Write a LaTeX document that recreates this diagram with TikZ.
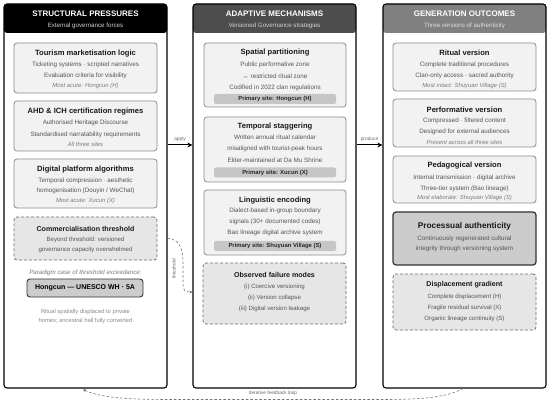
\documentclass[tikz,border=0pt]{standalone}
\usepackage{fontspec}
\setmainfont{Liberation Sans}
\usetikzlibrary{arrows.meta}
\definecolor{boxfill}{HTML}{F2F2F2}
\definecolor{boxdraw}{HTML}{8C8C8C}
\definecolor{dashfill}{HTML}{E6E6E6}
\definecolor{dashdraw}{HTML}{6E6E6E}
\definecolor{bodytxt}{HTML}{555555}
\definecolor{ittxt}{HTML}{7A7A7A}
\definecolor{lighttxt}{HTML}{8A8A8A}
\definecolor{barfill}{HTML}{C6C6C6}
\definecolor{hdrone}{HTML}{000000}
\definecolor{hdrtwo}{HTML}{4D4D4D}
\definecolor{hdrthree}{HTML}{808080}
\definecolor{subtxt}{HTML}{D2D2D2}
\definecolor{procfill}{HTML}{CCCCCC}
\newcommand\hdrfont{\fontsize{8}{9.6}\selectfont\bfseries}
\newcommand\subfont{\fontsize{6.2}{7.4}\selectfont}
\newcommand\ttlfont{\fontsize{7.6}{9}\selectfont\bfseries}
\newcommand\bodyfont{\fontsize{6.3}{7.5}\selectfont}
\newcommand\itfont{\fontsize{5.9}{7}\selectfont\itshape}
\newcommand\dttlfont{\fontsize{7.1}{8.5}\selectfont\bfseries}
\newcommand\dbodyfont{\fontsize{6.1}{7.3}\selectfont}
\newcommand\barfont{\fontsize{5.9}{7}\selectfont\bfseries}
\newcommand\tinyfont{\fontsize{4.8}{5.8}\selectfont}
\tikzset{
  colbox/.style={draw=black, line width=1.1pt, rounded corners=3pt, fill=white, inner sep=0pt, minimum width=163pt, minimum height=384pt},
  hdrfill/.style={path picture={\fill[#1] (path picture bounding box.north west) rectangle ([yshift=-29pt]path picture bounding box.north east);}},
  ibox/.style={draw=boxdraw, line width=0.8pt, rounded corners=3pt, fill=boxfill, inner sep=0pt, minimum width=143pt},
  dbox/.style={draw=dashdraw, line width=0.8pt, dash pattern=on 3pt off 2pt, rounded corners=3pt, fill=dashfill, inner sep=0pt, minimum width=143pt},
  pbar/.style={fill=barfill, rounded corners=2pt, inner sep=0pt, minimum width=122pt, minimum height=10pt, font=\barfont, text=black!85},
  hdr/.style={inner sep=0pt, font=\hdrfont, text=white},
  sub/.style={inner sep=0pt, font=\subfont, text=subtxt},
  ttl/.style={inner sep=0pt, font=\ttlfont, text=black!90},
  body/.style={inner sep=0pt, font=\bodyfont, text=bodytxt},
  itl/.style={inner sep=0pt, font=\itfont, text=ittxt},
  dttl/.style={inner sep=0pt, font=\dttlfont, text=black!90},
  dbody/.style={inner sep=0pt, font=\dbodyfont, text=bodytxt},
  lab/.style={inner sep=0pt, font=\tinyfont, text=black!60},
  mainarr/.style={line width=1pt, -{Stealth[length=5pt,width=5pt]}},
  thinarr/.style={draw=black!55, line width=0.6pt, dash pattern=on 2.5pt off 2pt, -{Stealth[length=3pt,width=3pt]}},
}
\begin{document}
\begin{tikzpicture}[x=1pt,y=-1pt]
\useasboundingbox (0,0) rectangle (550,404);
% columns
\node[colbox, hdrfill=hdrone] (c1) at (85.5,196) {};
\node[colbox, hdrfill=hdrtwo] (c2) at (274.5,196) {};
\node[colbox, hdrfill=hdrthree] (c3) at (464.5,196) {};
% headers
\node[hdr] (h1) at (85.5,14) {STRUCTURAL PRESSURES};
\node[sub] (s1) at (85.5,26) {External governance forces};
\node[hdr] (h2) at (274.5,14) {ADAPTIVE MECHANISMS};
\node[sub] (s2) at (274.5,26) {Versioned Governance strategies};
\node[hdr] (h3) at (464.5,14) {GENERATION OUTCOMES};
\node[sub, text=white!88!black] (s3) at (464.5,26) {Three versions of authenticity};

% ---------- column 1
\node[ibox, minimum height=50pt] (a1) at (85.5,68) {};
\node[ttl] (a1t) at (85.5,53.5) {Tourism marketisation logic};
\node[body] (a1a) at (85.5,64.5) {Ticketing systems · scripted narratives};
\node[body] (a1b) at (85.5,76) {Evaluation criteria for visibility};
\node[itl] (a1c) at (85.5,86) {Most acute: Hongcun (H)};

\node[ibox, minimum height=50pt] (a2) at (85.5,126) {};
\node[ttl] (a2t) at (85.5,112) {AHD \& ICH certification regimes};
\node[body] (a2a) at (85.5,123) {Authorised Heritage Discourse};
\node[body] (a2b) at (85.5,134.5) {Standardised narratability requirements};
\node[itl] (a2c) at (85.5,144) {All three sites};

\node[ibox, minimum height=49pt] (a3) at (85.5,183.5) {};
\node[ttl] (a3t) at (85.5,169.5) {Digital platform algorithms};
\node[body] (a3a) at (85.5,181) {Temporal compression · aesthetic};
\node[body] (a3b) at (85.5,191) {homogenisation (Douyin / WeChat)};
\node[itl] (a3c) at (85.5,201) {Most acute: Xucun (X)};

\node[dbox, minimum height=43pt] (a4) at (85.5,238.5) {};
\node[dttl] (a4t) at (85.5,229) {Commercialisation threshold};
\node[dbody] (a4a) at (85.5,239.5) {Beyond threshold: versioned};
\node[dbody] (a4b) at (85.5,250) {governance capacity overwhelmed};

\node[inner sep=0pt, font=\fontsize{6.2}{7.4}\selectfont\itshape, text=ittxt] (pc) at (85.5,273) {Paradigm case of threshold exceedance:};
\node[draw=black!80, line width=0.9pt, rounded corners=3pt, fill=procfill, inner sep=0pt, minimum width=116pt, minimum height=18pt, font=\fontsize{7}{8.4}\selectfont\bfseries] (hb) at (85,288) {Hongcun — UNESCO WH · 5A};
\node[inner sep=0pt, font=\fontsize{5.8}{7}\selectfont, text=lighttxt] (r1) at (85.5,312) {Ritual spatially displaced to private};
\node[inner sep=0pt, font=\fontsize{5.8}{7}\selectfont, text=lighttxt] (r2) at (85.5,321.5) {homes; ancestral hall fully converted};

% ---------- column 2
\node[ibox, minimum width=142pt, minimum height=64pt] (b1) at (275,75) {};
\node[ttl] (b1t) at (275,53) {Spatial partitioning};
\node[body] (b1a) at (275,65) {Public performative zone};
\node[body] (b1b) at (275,76) {↔ restricted ritual zone};
\node[body] (b1c) at (275,87.5) {Codified in 2022 clan regulations};
\node[pbar] (b1p) at (275,99) {Primary site: Hongcun (H)};

\node[ibox, minimum width=142pt, minimum height=65pt] (b2) at (275,149.5) {};
\node[ttl] (b2t) at (275,127) {Temporal staggering};
\node[body] (b2a) at (275,137.5) {Written annual ritual calendar};
\node[body] (b2b) at (275,149) {misaligned with tourist-peak hours};
\node[body] (b2c) at (275,160) {Elder-maintained at Da Mu Shrine};
\node[pbar] (b2p) at (275,172.5) {Primary site: Xucun (X)};

\node[ibox, minimum width=142pt, minimum height=65pt] (b3) at (275,222.5) {};
\node[ttl] (b3t) at (275,200.5) {Linguistic encoding};
\node[body] (b3a) at (275,211) {Dialect-based in-group boundary};
\node[body] (b3b) at (275,222) {signals (30+ documented codes)};
\node[body] (b3c) at (275,233) {Bao lineage digital archive system};
\node[pbar] (b3p) at (275,246) {Primary site: Shuyuan Village (S)};

\node[dbox, minimum height=61pt] (b4) at (274.5,293.5) {};
\node[dttl] (b4t) at (274.5,275) {Observed failure modes};
\node[dbody] (b4a) at (274.5,287) {(i) Coercive versioning};
\node[dbody] (b4b) at (274.5,298) {(ii) Version collapse};
\node[dbody] (b4c) at (274.5,309) {(iii) Digital version leakage};

% ---------- column 3
\node[ibox, minimum height=48pt] (d1) at (464.5,67) {};
\node[ttl] (d1t) at (464.5,53) {Ritual version};
\node[body] (d1a) at (464.5,65) {Complete traditional procedures};
\node[body] (d1b) at (464.5,76) {Clan-only access · sacred authority};
\node[itl] (d1c) at (464.5,85.5) {Most intact: Shuyuan Village (S)};

\node[ibox, minimum height=48pt] (d2) at (464.5,123) {};
\node[ttl] (d2t) at (464.5,109.5) {Performative version};
\node[body] (d2a) at (464.5,120.5) {Compressed · filtered content};
\node[body] (d2b) at (464.5,132) {Designed for external audiences};
\node[itl] (d2c) at (464.5,142) {Present across all three sites};

\node[ibox, minimum height=47pt] (d3) at (464.5,179.5) {};
\node[ttl] (d3t) at (464.5,166) {Pedagogical version};
\node[body] (d3a) at (464.5,178) {Internal transmission · digital archive};
\node[body] (d3b) at (464.5,188.5) {Three-tier system (Bao lineage)};
\node[itl] (d3c) at (464.5,198) {Most elaborate: Shuyuan Village (S)};

\node[draw=black!80, line width=1.2pt, rounded corners=3pt, fill=procfill, inner sep=0pt, minimum width=143pt, minimum height=53pt] (d4) at (464.5,238.5) {};
\node[inner sep=0pt, font=\fontsize{8.3}{10}\selectfont\bfseries, text=black!90] (d4t) at (464.5,226) {Processual authenticity};
\node[body] (d4a) at (464.5,238.5) {Continuously regenerated cultural};
\node[body] (d4b) at (464.5,248.5) {integrity through versioning system};

\node[dbox, minimum height=56pt] (d5) at (464.5,302) {};
\node[dttl] (d5t) at (464.5,285) {Displacement gradient};
\node[dbody] (d5a) at (464.5,296.5) {Complete displacement (H)};
\node[dbody] (d5b) at (464.5,308) {Fragile residual survival (X)};
\node[dbody] (d5c) at (464.5,319) {Organic lineage continuity (S)};

% ---------- connectors
\coordinate (ay) at (0,145);
\draw[mainarr] (c1.east |- ay) -- (c2.west |- ay);
\draw[mainarr] (c2.east |- ay) -- (c3.west |- ay);
\node[lab] (lap) at (180,139) {apply};
\node[lab] (lpr) at (369.5,139) {produce};

\coordinate (t1) at (0,238);
\coordinate (t2) at (0,292);
\draw[thinarr] (c1.east |- t1) .. controls (181,240) and (183,250) .. (183,264) -- (183,283) .. controls (183,291) and (185,292) .. (c2.west |- t2);
\node[lab, rotate=90] (lth) at (174,269) {threshold};

\coordinate (f3) at (463,0);
\coordinate (f1) at (83,0);
\draw[thinarr] (c3.south -| f3) .. controls (445,398) and (420,399.5) .. (380,399.5) -- (170,399.5) .. controls (120,399.5) and (100,397) .. ([yshift=-1pt]c1.south -| f1);
\node[lab] (lfb) at (273,393.5) {Iterative feedback loop};
\end{tikzpicture}
\end{document}
